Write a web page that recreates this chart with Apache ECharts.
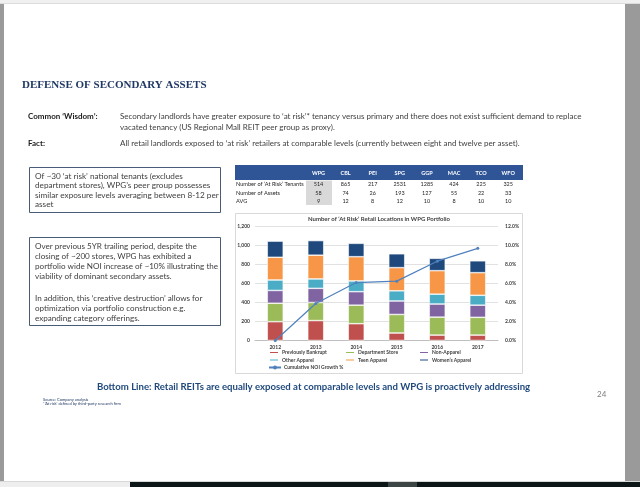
<!DOCTYPE html>
<html>
<head>
<meta charset="utf-8">
<script src="https://cdn.jsdelivr.net/npm/echarts@6/dist/echarts.min.js"></script>
<style>html,body{margin:0;padding:0;background:#fff;}#c{width:640px;height:487px;}</style>
</head>
<body>
<div id="c"></div>
<script>
// ---- data ----
var years = ['2012', '2013', '2014', '2015', '2016', '2017'];
var previouslyBankrupt = [198, 210, 177, 79, 57, 57];
var departmentStore   = [194, 190, 195, 195, 189, 187];
var nonApparel        = [135, 149, 142, 142, 138, 128];
var otherApparel      = [110, 99, 113, 107, 104, 104];
var teenApparel       = [239, 250, 255, 244, 247, 238];
var womensApparel     = [170, 154, 141, 146, 130, 125];
var noiGrowth         = [0.0, 3.9, 6.1, 6.25, 8.35, 9.7];
var leftTicks = [0, 200, 400, 600, 800, 1000, 1200];
var rightTicks = [0, 2, 4, 6, 8, 10, 12];

var tableCols = ['WPG', 'CBL', 'PEI', 'SPG', 'GGP', 'MAC', 'TCO', 'WFO'];
var atRiskTenants = ['514', '865', '217', '2531', '1285', '424', '225', '325'];
var numAssets = ['58', '74', '26', '193', '127', '55', '22', '33'];
var avgPerAsset = ['9', '12', '8', '12', '10', '8', '10', '10'];
var tableRows = ['Number of \u2018At Risk\u2019 Tenants', 'Number of Assets', 'AVG'];

var seriesNames = ['Previously Bankrupt', 'Department Store', 'Non-Apparel', 'Other Apparel', 'Teen Apparel', 'Women\u2019s Apparel'];
var seriesColors = ['#C0504D', '#9BBB59', '#8064A2', '#4BACC6', '#F79646', '#1F497D'];
var lineName = 'Cumulative NOI Growth %';

var box1Lines = ['Of ~30 \u2018at risk\u2019 national tenants (excludes',
  'department stores), WPG\u2019s peer group possesses',
  'similar exposure levels averaging between 8-12 per',
  'asset'];
var box2Lines = ['Over previous 5YR trailing period, despite the',
  'closing of ~200 stores, WPG has exhibited a',
  'portfolio wide NOI increase of ~10% illustrating the',
  'viability of dominant secondary assets.',
  '',
  'In addition, this \u2018creative destruction\u2019 allows for',
  'optimization via portfolio construction e.g.',
  'expanding category offerings.'];

// ---- layout helpers ----
var FONT = 'Lato, "Open Sans", sans-serif';
var graphic = [];
function txt(s, x, y, o) {
  o = o || {};
  graphic.push({type: 'text', z: 10, style: {text: s, x: x, y: y,
    fontFamily: o.family || FONT, fontSize: o.size || 8, fontWeight: o.weight || 'normal',
    fill: o.color || '#404040', align: o.align || 'left', verticalAlign: 'middle'}});
}
function rect(x, y, w, h, fill, stroke, lw) {
  graphic.push({type: 'rect', z: 1, shape: {x: x, y: y, width: w, height: h},
    style: {fill: fill || 'none', stroke: stroke || null, lineWidth: lw || 1}});
}

// page frame
rect(0, 0, 640, 3, '#f0f0f0');
rect(0, 3, 640, 1, '#dcdcdc');
rect(0, 4, 4, 479, '#9a9a9a');
rect(625, 4, 15, 479, '#9a9a9a');
rect(0, 481, 640, 1, '#d8d8d8');
rect(0, 482, 130, 5, '#eeeeee');
rect(130, 482, 510, 5, '#0c1616');
rect(388, 482, 29, 5, '#3c4444');

// title & intro
txt('DEFENSE OF SECONDARY ASSETS', 22, 85, {family: '"Liberation Serif", serif', size: 11, weight: 'bold', color: '#1F3864'});
txt('Common \u2018Wisdom\u2019:', 28, 116.5, {weight: 'bold', color: '#1a1a1a'});
txt('Secondary landlords have greater exposure to \u2018at risk\u2019* tenancy versus primary and there does not exist sufficient demand to replace', 120, 116.5);
txt('vacated tenancy (US Regional Mall REIT peer group as proxy).', 120, 127.5);
txt('Fact:', 28, 143, {weight: 'bold', color: '#1a1a1a'});
txt('All retail landlords exposed to \u2018at risk\u2019 retailers at comparable levels (currently between eight and twelve per asset).', 120, 143);

// left boxes
rect(29.5, 167.5, 191, 45, '#fff', '#4a5b78', 1);
box1Lines.forEach(function (s, i) { txt(s, 35, 176 + i * 9.6, {size: 8.2}); });
rect(29.5, 237.5, 191, 88, '#fff', '#4a5b78', 1);
box2Lines.forEach(function (s, i) { if (s) txt(s, 35, 246.5 + i * 10 + (i > 4 ? 2 : 0), {size: 8.1}); });

// table
rect(235, 165, 288, 15, '#2F5597');
rect(306, 180.5, 26, 24.5, '#d9d9d9');
tableCols.forEach(function (c, i) {
  var cx = 318.5 + i * 27.1;
  txt(c, cx, 173, {size: 5.5, weight: 'bold', color: '#ffffff', align: 'center'});
  txt(atRiskTenants[i], cx, 184.5, {size: 5.5, color: '#262626', align: 'center'});
  txt(numAssets[i], cx, 193, {size: 5.5, color: '#262626', align: 'center'});
  txt(avgPerAsset[i], cx, 201.5, {size: 5.5, color: '#262626', align: 'center'});
});
tableRows.forEach(function (r, i) { txt(r, 236, [184.5, 193, 201.5][i], {size: 5.6, color: '#262626'}); });

// chart frame
rect(235.5, 213.5, 287, 160, 'none', '#d9d9d9', 1);

// bottom texts
txt('Bottom Line: Retail REITs are equally exposed at comparable levels and WPG is proactively addressing', 313.5, 386.5, {size: 9.6, weight: 'bold', color: '#1F497D', align: 'center'});
txt('24', 597, 394, {size: 8, color: '#7f7f7f'});
txt('Source: Company analysis', 43, 399.5, {size: 4, color: '#1F3864'});
txt('*\u2018At risk\u2019 defined by third-party research firm', 43, 404, {size: 4, color: '#1F3864'});

// ---- chart ----
var barData = [previouslyBankrupt, departmentStore, nonApparel, otherApparel, teenApparel, womensApparel];
var series = barData.map(function (d, i) {
  return {name: seriesNames[i], type: 'bar', stack: 'a', data: d, barWidth: 16,
    itemStyle: {color: seriesColors[i], borderColor: '#ffffff', borderWidth: 0.6}};
});
series.push({name: lineName, type: 'line', yAxisIndex: 1, data: noiGrowth, symbol: 'circle', symbolSize: 3,
  lineStyle: {color: '#4F81BD', width: 1.2}, itemStyle: {color: '#4F81BD'}, z: 5});

var legendPos = [[268, 350], [344, 350], [418, 350], [268, 357.5], [344, 357.5], [418, 357.5], [268, 365]];
var legends = seriesNames.concat([lineName]).map(function (n, i) {
  return {data: [n], left: legendPos[i][0], top: legendPos[i][1], padding: 0,
    itemWidth: i === 6 ? 12 : 10, itemHeight: i === 6 ? 5 : 3, selectedMode: false,
    textStyle: {fontSize: 5, fontWeight: 'bold', fontFamily: FONT, color: '#404040', padding: [0, 0, 0, -2]}};
});

var axisLab = {fontSize: 5, fontWeight: 'bold', fontFamily: FONT, color: '#404040'};
var option = {
  animation: false,
  backgroundColor: '#ffffff',
  title: {text: 'Number of \u2018At Risk\u2019 Retail Locations in WPG Portfolio', left: 379, top: 216.5, textAlign: 'center', padding: 0,
    textStyle: {fontSize: 6, fontWeight: 'bold', fontFamily: FONT, color: '#404040'}},
  legend: legends,
  grid: {left: 255, right: 142, top: 226.5, bottom: 146.5},
  xAxis: {type: 'category', data: years, axisTick: {show: false},
    axisLine: {lineStyle: {color: '#bfbfbf', width: 1}},
    axisLabel: Object.assign({margin: 4}, axisLab)},
  yAxis: [
    {type: 'value', min: leftTicks[0], max: leftTicks[leftTicks.length - 1], interval: 200,
      splitLine: {lineStyle: {color: '#d9d9d9', width: 0.8}}, axisLine: {show: false}, axisTick: {show: false},
      axisLabel: Object.assign({margin: 5, formatter: function (v) { return v.toLocaleString('en-US'); }}, axisLab)},
    {type: 'value', min: rightTicks[0], max: rightTicks[rightTicks.length - 1], interval: 2,
      splitLine: {show: false}, axisLine: {show: false}, axisTick: {show: false},
      axisLabel: Object.assign({margin: 7, formatter: function (v) { return v.toFixed(1) + '%'; }}, axisLab)}
  ],
  graphic: graphic,
  series: series
};
var chart = echarts.init(document.getElementById('c'), null, {renderer: 'canvas'});
chart.setOption(option);
</script>
</body>
</html>
